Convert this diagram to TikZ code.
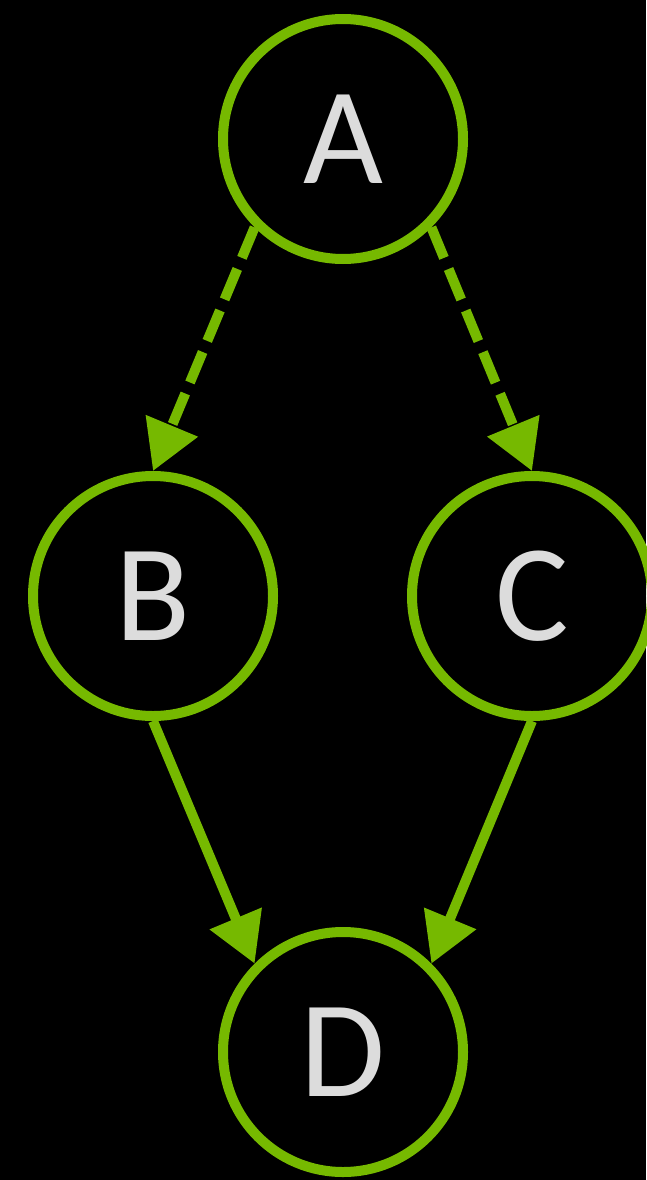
\documentclass[tikz,border=0pt]{standalone}
\usepackage{fontspec}
\setmainfont{Carlito}
\usetikzlibrary{arrows.meta}
\definecolor{nvgreen}{HTML}{76B900}
\definecolor{lettergray}{HTML}{DCDCDC}
\begin{document}
\begin{tikzpicture}[x=1pt,y=-1pt,
  vertex/.style={circle, draw=nvgreen, line width=10pt, minimum size=240pt, inner sep=0pt,
    text=lettergray, font=\fontsize{138}{138}\selectfont},
  edge/.style={draw=nvgreen, line width=10pt, -{Triangle[length=49pt,width=54pt]}},
  dashedge/.style={edge, dash pattern=on 33pt off 12pt}]
\fill[black] (0,0) rectangle (646,1180);
\useasboundingbox (0,0) rectangle (646,1180);
\node[vertex] (A) at (343,139) {\raisebox{-3pt}{A}};
\node[vertex] (B) at (153,596) {\raisebox{-3pt}{B}};
\node[vertex] (C) at (532,596) {\raisebox{-3pt}{C}};
\node[vertex] (D) at (343,1052) {\raisebox{-3pt}{D}};
\draw[dashedge] (A.south west) -- (B.north);
\draw[dashedge] (A.south east) -- (C.north);
\draw[edge] (B.south) -- (D.north west);
\draw[edge] (C.south) -- (D.north east);
\end{tikzpicture}
\end{document}
